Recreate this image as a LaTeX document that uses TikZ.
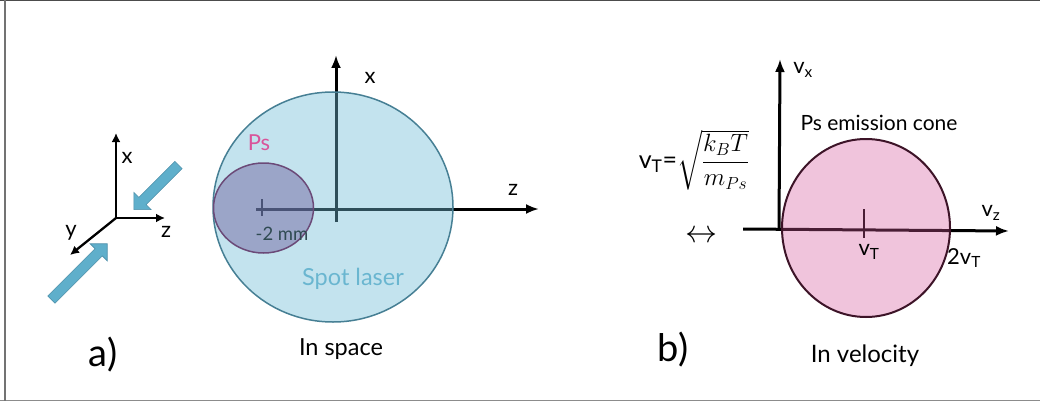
\RequirePackage{fix-cm}
\documentclass[tikz,border=0pt]{standalone}
\usepackage{amsmath}
\usepackage{fontspec}
\setmainfont{Lato}
\usetikzlibrary{arrows.meta,shapes.arrows}

\definecolor{spotfill}{HTML}{70BCD6}
\definecolor{spotedge}{HTML}{467F94}
\definecolor{psfill}{HTML}{6A5A9A}
\definecolor{psedge}{HTML}{6B4A78}
\definecolor{pstext}{HTML}{D9549A}
\definecolor{spottext}{HTML}{6AB6D0}
\definecolor{beamfill}{HTML}{5FAFCB}
\definecolor{beamedge}{HTML}{4A8DA8}
\definecolor{conefill}{HTML}{D3569A}
\definecolor{coneedge}{HTML}{3D1428}
\definecolor{mmtext}{HTML}{2F4A52}

\tikzset{
  axis/.style={line width=3pt, -{Latex[length=13pt,width=10pt]}},
  smallaxis/.style={line width=2.3pt, -{Latex[length=9pt,width=9pt]}},
  beam/.style={single arrow, draw=beamedge, fill=beamfill, line width=0.6pt,
    inner sep=4.8pt, single arrow head extend=7pt, single arrow head indent=0pt},
  lbl/.style={font=\fontsize{22}{26}\selectfont, inner sep=0pt},
  biglbl/.style={font=\fontsize{38}{44}\selectfont, inner sep=0pt},
}

\begin{document}
\begin{tikzpicture}[x=1pt,y=-1pt]
  \useasboundingbox (0,0) rectangle (1040,401);
  % frame
  \coordinate (tl) at (0,0.5);
  \coordinate (tr) at (1040,0.5);
  \coordinate (bl) at (0,400);
  \coordinate (br) at (1040,400);
  \draw[black!70, line width=1pt] (tl) -- (tr);
  \draw[black!45, line width=1pt] (bl) -- (br);
  \draw[black!55, line width=2pt] (4.5,0) -- (4.5,401);

  % a) axes
  \coordinate (o1) at (116,218);
  \coordinate (x1) at (116,133);
  \coordinate (z1) at (165,218);
  \coordinate (y1) at (70,255);
  \draw[smallaxis] (o1) -- (x1);
  \draw[smallaxis] (o1) -- (z1);
  \draw[smallaxis] (o1) -- (y1);
  \node[lbl] (lx1) at (127,158) {x};
  \node[lbl] (lz1) at (166,232) {z};
  \node[lbl] (ly1) at (71,233) {y};
  \node[beam, minimum height=63pt, rotate=225] (beam1) at (158,185.5) {};
  \node[beam, minimum height=79pt, rotate=45] (beam2) at (77.5,273.5) {};
  \node[biglbl] (la) at (103,355) {a)};

  % a) space
  \coordinate (o2) at (336,209);
  \coordinate (x2) at (336,55);
  \coordinate (s2) at (336,222);
  \coordinate (w2) at (256,209);
  \coordinate (z2) at (539,209);
  \draw[line width=3pt] (s2) -- (o2);
  \draw[axis] (o2) -- (x2);
  \draw[axis] (w2) -- (z2);
  \draw[line width=1.6pt] (262,199) -- (262,216);
  \node[lbl] (lx2) at (370,78) {x};
  \node[lbl] (lz2) at (513,190) {z};
  \fill[spotfill, fill opacity=0.42] (333,207) ellipse [x radius=120, y radius=115];
  \draw[spotedge, line width=1.5pt] (333,207) ellipse [x radius=120, y radius=115];
  \fill[psfill, fill opacity=0.45] (263.5,208) ellipse [x radius=50, y radius=45];
  \draw[psedge, line width=1.5pt] (263.5,208) ellipse [x radius=50, y radius=45];
  \node[lbl, text=pstext] (lps) at (259,143) {Ps};
  \node[lbl, text=mmtext, font=\fontsize{18.5}{22}\selectfont] (lmm) at (282,234) {-2 mm};
  \node[lbl, text=spottext, anchor=base, font=\fontsize{23.5}{28}\selectfont] (lspot) at (353,285) {Spot laser};
  \node[lbl, anchor=base, font=\fontsize{23.5}{28}\selectfont] (lspace) at (341,355) {In space};

  % b) velocity
  \coordinate (o3) at (779,229);
  \coordinate (vx) at (780,59);
  \coordinate (w3) at (743,229);
  \coordinate (vz) at (1009,231);
  \draw[axis] (o3) -- (vx);
  \draw[axis] (w3) -- (vz);
  \draw[line width=2pt] (864,209) -- (864,238);
  \fill[conefill, fill opacity=0.35] (866,228) ellipse [x radius=84, y radius=89];
  \draw[coneedge, line width=2pt] (866,228) ellipse [x radius=84, y radius=89];
  \node[lbl] (lvx) at (803,70) {v\textsubscript{x}};
  \node[lbl] (lvz) at (991,213) {v\textsubscript{z}};
  \node[lbl, anchor=base, font=\fontsize{21}{25}\selectfont] (lcone) at (879,131) {Ps emission cone};
  \node[lbl] (lvt) at (869,252) {v\textsubscript{T}};
  \node[lbl] (l2vt) at (964,258) {2v\textsubscript{T}};
  \node[lbl, font=\fontsize{25}{30}\selectfont] (lform) at (694,160)
    {v\textsubscript{T}=$\sqrt{\dfrac{k_BT}{m_{Ps}}}$};
  \node[lbl, font=\fontsize{32}{36}\selectfont] (larrow) at (701,237) {$\leftrightarrow$};
  \node[biglbl] (lb) at (673,350) {b)};
  \node[lbl, font=\fontsize{24}{28}\selectfont, anchor=base] (lvel) at (865,362) {In velocity};
\end{tikzpicture}
\end{document}
